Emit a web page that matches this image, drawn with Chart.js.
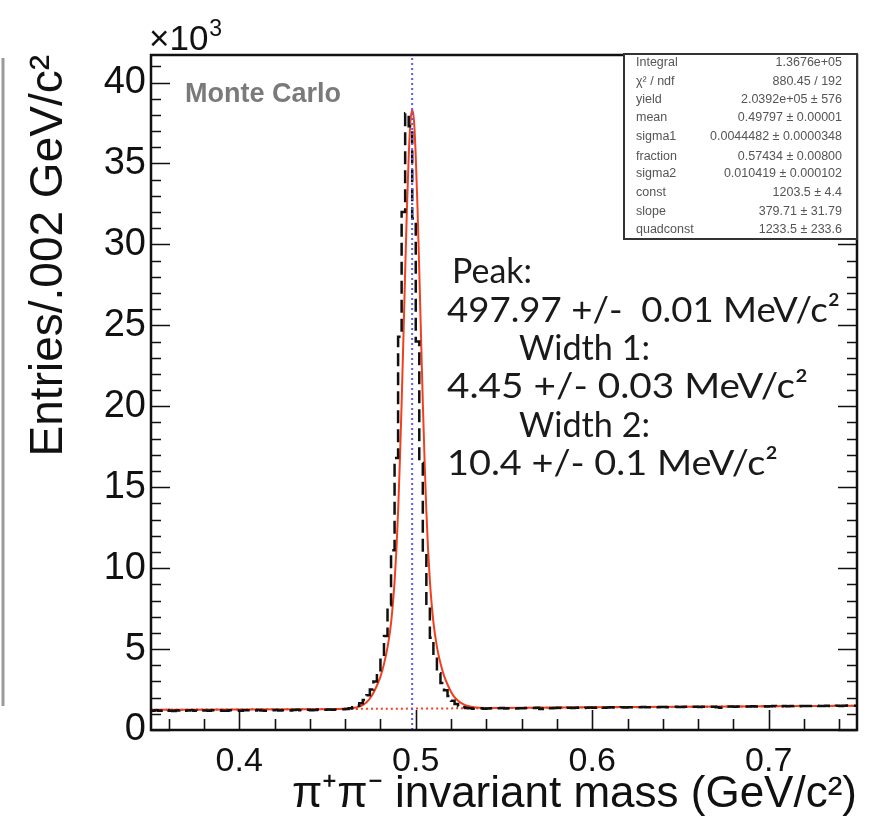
<!DOCTYPE html>
<html><head><meta charset="utf-8">
<script src="https://cdn.jsdelivr.net/npm/chart.js@4/dist/chart.umd.min.js"></script>
<style>html,body{margin:0;padding:0;background:#fff;}canvas{display:block;}</style>
</head><body>
<canvas id="c" width="872" height="824"></canvas>
<script>
// ---------- data ----------
const massMin = 0.35, massMax = 0.75, binWidth = 0.002;
const yMax = 41700;
const xTickValues = [0.4, 0.5, 0.6, 0.7];
const yTickValues = [0, 5000, 10000, 15000, 20000, 25000, 30000, 35000, 40000];

// entries per 0.002 GeV/c^2 bin, 0.350 .. 0.750 (200 bins)
const entries = [
  1210,1195,1220,1185,1200,1230,1190,1175,1205,1215,
  1185,1200,1225,1195,1180,1210,1200,1190,1215,1230,
  1205,1185,1195,1220,1210,1200,1185,1215,1225,1195,
  1210,1230,1205,1190,1220,1215,1235,1200,1225,1240,
  1210,1230,1245,1220,1235,1250,1225,1240,1260,1235,
  1250,1265,1245,1260,1275,
  1280,1300,1340,1400,1500,1650,1850,2150,2500,3000,
  3600,4500,5800,7700,11100,16800,24300,32000,38100,37300,
  31600,24000,16500,11000,7600,5700,4400,3500,2900,2450,
  2100,1800,1600,1480,1400,1360,
  1340,1320,1335,1350,1310,1330,1345,1325,1340,1355,
  1330,1345,1360,1335,1350,1340,1365,1345,1355,1370,
  1300,1350,1365,1345,1360,1375,1355,1370,1380,1360,
  1375,1385,1365,1380,1390,1370,1385,1395,1380,1390,
  1400,1385,1395,1405,1390,1400,1410,1395,1405,1415,
  1400,1410,1420,1405,1415,1425,1410,1420,1430,1415,
  1425,1435,1420,1430,1440,1425,1435,1445,1430,1440,
  1400,1380,1390,1445,1455,1440,1450,1460,1445,1455,
  1465,1450,1460,1470,1455,1465,1475,1460,1470,1480,
  1465,1475,1485,1470,1480,1490,1475,1485,1495,1480,
  1490,1500,1485,1495,1505,1490,1500,1510,1495
];

// fit curve (double gaussian + quadratic)
const fitMass = [0.350,0.400,0.440,0.455,0.463,0.468,0.472,0.475,0.478,0.480,0.482,0.484,0.486,0.488,0.489,0.490,0.491,0.492,0.493,0.494,0.495,0.496,0.497,0.498,0.499,0.500,0.501,0.502,0.503,0.504,0.505,0.506,0.507,0.508,0.510,0.512,0.514,0.516,0.518,0.521,0.524,0.528,0.533,0.540,0.600,0.650,0.700,0.750];
const fitEntries = [1250,1265,1285,1300,1340,1440,1700,2100,2750,3300,4070,5100,6600,9160,11050,13500,16600,20200,24200,28300,32200,35400,37600,38300,37650,35450,32250,28350,24250,20250,16650,13550,11100,9210,6660,5140,4120,3360,2810,2170,1800,1530,1400,1360,1400,1440,1470,1500];

// background component of the fit
const bkgMass = [0.35, 0.45, 0.55, 0.65, 0.75];
const bkgEntries = [1250, 1295, 1355, 1430, 1500];

const peakMean = 0.49797;

const statLabels = ["Integral", "\u03C7\u00B2 / ndf", "yield", "mean", "sigma1", "fraction", "sigma2", "const", "slope", "quadconst"];
const statValues = ["1.3676e+05", "880.45 / 192", "2.0392e+05 \u00B1 576", "0.49797 \u00B1 0.00001", "0.0044482 \u00B1 0.0000348", "0.57434 \u00B1 0.00800", "0.010419 \u00B1 0.000102", "1203.5 \u00B1 4.4", "379.71 \u00B1 31.79", "1233.5 \u00B1 233.6"];

const noteLines = ["Peak:", "497.97 +/-  0.01 MeV/c\u00B2", "Width 1:", "4.45 +/- 0.03 MeV/c\u00B2", "Width 2:", "10.4 +/- 0.1 MeV/c\u00B2"];

// ---------- build datasets ----------
const histPoints = entries.map((v, i) => ({ x: massMin + i * binWidth, y: v }));
histPoints.push({ x: massMax, y: entries[entries.length - 1] });
const fitPoints = fitMass.map((m, i) => ({ x: m, y: fitEntries[i] }));
const bkgPoints = bkgMass.map((m, i) => ({ x: m, y: bkgEntries[i] }));
const meanPoints = [{ x: peakMean, y: 0 }, { x: peakMean, y: yMax }];

const SANS = "'Liberation Sans', Arial, sans-serif";

const rootFrame = {
  id: 'rootFrame',
  beforeDatasetsDraw(chart) {
    const { ctx, chartArea: a, scales: { x, y } } = chart;
    ctx.save();
    ctx.strokeStyle = '#111';
    ctx.lineWidth = 1.6;
    ctx.beginPath();
    for (let k = 18; k <= 37; k++) {
      const px = Math.round(x.getPixelForValue(k * 0.02)) + 0.5;
      const len = (k % 5 === 0) ? 20 : 11;
      ctx.moveTo(px, a.bottom); ctx.lineTo(px, a.bottom - len);
    }
    for (let k = 0; k <= 41; k++) {
      const py = Math.round(y.getPixelForValue(k * 1000)) + 0.5;
      const len = (k % 5 === 0) ? 19 : 10;
      ctx.moveTo(a.left, py); ctx.lineTo(a.left + len, py);
      ctx.moveTo(a.right, py); ctx.lineTo(a.right - len, py);
    }
    ctx.stroke();
    ctx.restore();
  },
  afterDatasetsDraw(chart) {
    const { ctx, chartArea: a } = chart;
    ctx.save();
    ctx.strokeStyle = '#111';
    ctx.lineWidth = 2.5;
    ctx.strokeRect(a.left, a.top, a.right - a.left, a.bottom - a.top);
    ctx.restore();
  },
  afterDraw(chart) {
    const { ctx, chartArea: a } = chart;
    ctx.save();
    // neighbouring panel edge
    ctx.strokeStyle = '#9a9a9a';
    ctx.lineWidth = 3;
    ctx.beginPath(); ctx.moveTo(3, 58); ctx.lineTo(3, 706); ctx.stroke();

    // x10^3
    ctx.fillStyle = '#111';
    ctx.textBaseline = 'alphabetic';
    ctx.textAlign = 'left';
    ctx.font = "35px " + SANS;
    ctx.fillText('\u00D710', a.left - 2, 50);
    const w = ctx.measureText('\u00D710').width;
    ctx.font = "23px " + SANS;
    ctx.fillText('3', a.left - 2 + w + 1, 36);

    // Monte Carlo
    ctx.fillStyle = '#7a7a7a';
    ctx.font = "bold 27px " + SANS;
    ctx.fillText('Monte Carlo', 185, 102);

    // stats box
    const bx = 624, by = 54, bw = a.right - 624, bh = 185;
    ctx.fillStyle = '#fff';
    ctx.fillRect(bx, by, bw, bh);
    ctx.strokeStyle = '#333';
    ctx.lineWidth = 2;
    ctx.strokeRect(bx, by, bw, bh);
    ctx.fillStyle = '#555';
    ctx.font = "12.5px " + SANS;
    const rowY = [63, 82, 100, 118, 137, 157, 174, 193, 212, 230];
    ctx.textBaseline = 'middle';
    statLabels.forEach((t, i) => {
      ctx.textAlign = 'left';
      ctx.fillText(t, 636, rowY[i]);
      ctx.textAlign = 'right';
      ctx.fillText(statValues[i], 842, rowY[i]);
    });

    // annotations (fitted to the widths seen in the reference)
    ctx.fillStyle = '#1a1a1a';
    ctx.textAlign = 'left';
    ctx.textBaseline = 'alphabetic';
    ctx.font = "35px Lato, 'Open Sans', sans-serif";
    const nx = [452, 447, 519, 447, 519, 447];
    const ny = [283, 322, 360, 398, 437, 475];
    const nw = [80, 393, 131, 361, 131, 331];
    noteLines.forEach((t, i) => {
      const mw = ctx.measureText(t).width;
      const sx = nw[i] / mw;
      ctx.save();
      ctx.translate(nx[i], ny[i]);
      ctx.scale(sx, 1);
      ctx.fillText(t, 0, 0);
      ctx.restore();
    });
    ctx.restore();
  }
};

function draw() {
  new Chart(document.getElementById('c'), {
    type: 'line',
    data: {
      datasets: [
        { label: 'mean', data: meanPoints, borderColor: '#5a5af2', borderWidth: 2, borderDash: [2, 3], pointRadius: 0, order: 0 },
        { label: 'MC', data: histPoints, stepped: 'after', borderColor: '#111', borderWidth: 2.5, borderDash: [13, 6], pointRadius: 0, order: 1 },
        { label: 'fit', data: fitPoints, borderColor: '#f2401e', borderWidth: 2, pointRadius: 0, cubicInterpolationMode: 'monotone', order: 2 },
        { label: 'bkg', data: bkgPoints, borderColor: '#f2401e', borderWidth: 2, borderDash: [2, 3], pointRadius: 0, tension: 0.3, order: 3 }
      ]
    },
    options: {
      responsive: false,
      animation: false,
      devicePixelRatio: 1,
      layout: { padding: { top: 55, right: 15, left: 0, bottom: 0 } },
      plugins: { legend: { display: false }, tooltip: { enabled: false }, title: { display: false } },
      scales: {
        x: {
          type: 'linear', min: massMin, max: massMax,
          afterBuildTicks: s => { s.ticks = xTickValues.map(v => ({ value: v })); },
          afterFit: s => { s.height = 94; },
          grid: { display: false, drawTicks: false },
          border: { display: false },
          ticks: { font: { family: SANS, size: 34 }, color: '#111', padding: 11, maxRotation: 0, autoSkip: false, callback: v => Number(v).toFixed(1) },
          title: { display: true, text: '\u03C0\u207A\u03C0\u207B invariant mass (GeV/c\u00B2)', align: 'end', color: '#111', font: { family: SANS, size: 44 }, padding: { top: 0, bottom: 3 } }
        },
        y: {
          type: 'linear', min: 0, max: yMax,
          afterBuildTicks: s => { s.ticks = yTickValues.map(v => ({ value: v })); },
          afterFit: s => { s.width = 151; },
          grid: { display: false, drawTicks: false },
          border: { display: false },
          ticks: { font: { family: SANS, size: 38 }, color: '#111', padding: 5, autoSkip: false, callback: v => String(v / 1000) },
          title: { display: true, text: 'Entries/.002 GeV/c\u00B2', align: 'end', color: '#111', font: { family: SANS, size: 46 }, padding: { top: 22, bottom: 0 } }
        }
      }
    },
    plugins: [rootFrame]
  });
}
Promise.all([
  document.fonts.load("34px 'Liberation Sans'"),
  document.fonts.load("35px Lato")
]).then(draw, draw);
</script>
</body></html>
